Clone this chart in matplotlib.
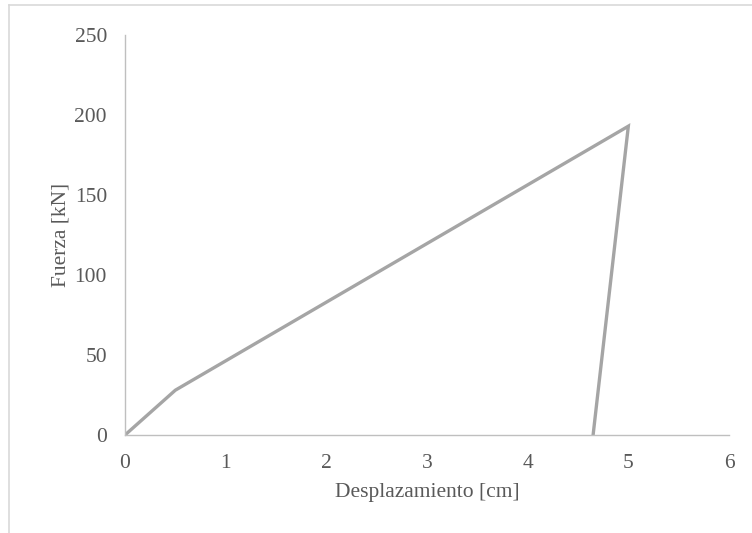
import matplotlib.pyplot as plt
from matplotlib.lines import Line2D

# curva fuerza-desplazamiento
desplazamiento = [0.0, 0.5, 5.0, 4.65]
fuerza = [0.0, 28.0, 193.0, 0.0]

x_ticks = [0, 1, 2, 3, 4, 5, 6]
y_ticks = [0, 50, 100, 150, 200, 250]

plt.rcParams['font.family'] = ['Liberation Serif', 'DejaVu Serif']

fig = plt.figure(figsize=(7.52, 5.33), dpi=100)
ax = fig.add_axes([125 / 752, 1 - 435 / 533, 604 / 752, 400 / 533])

ax.plot(desplazamiento, fuerza, color='#a5a5a5', linewidth=2.4, solid_joinstyle='miter')

ax.set_xlim(0, 6)
ax.set_ylim(0, 250)
ax.set_xticks(x_ticks)
ax.set_yticks(y_ticks)
ax.tick_params(length=0, labelsize=15.5, colors='#595959')
ax.tick_params(axis='x', pad=14)
ax.tick_params(axis='y', pad=13)

for side in ['top', 'right']:
    ax.spines[side].set_visible(False)
for side in ['left', 'bottom']:
    ax.spines[side].set_color('#bfbfbf')
    ax.spines[side].set_linewidth(1.0)

ax.set_xlabel('Desplazamiento [cm]', fontsize=15.5, color='#595959', labelpad=7)
ax.set_ylabel('Fuerza [kN]', fontsize=15.5, color='#595959', labelpad=3)

# marco del grafico (solo arriba e izquierda)
fig.add_artist(Line2D([8.5 / 752, 1], [1 - 4.5 / 533, 1 - 4.5 / 533],
                      transform=fig.transFigure, color='#d9d9d9', linewidth=1.2))
fig.add_artist(Line2D([8.5 / 752, 8.5 / 752], [0, 1 - 4.5 / 533],
                      transform=fig.transFigure, color='#d9d9d9', linewidth=1.2))

fig.savefig('out.png', dpi=100)
